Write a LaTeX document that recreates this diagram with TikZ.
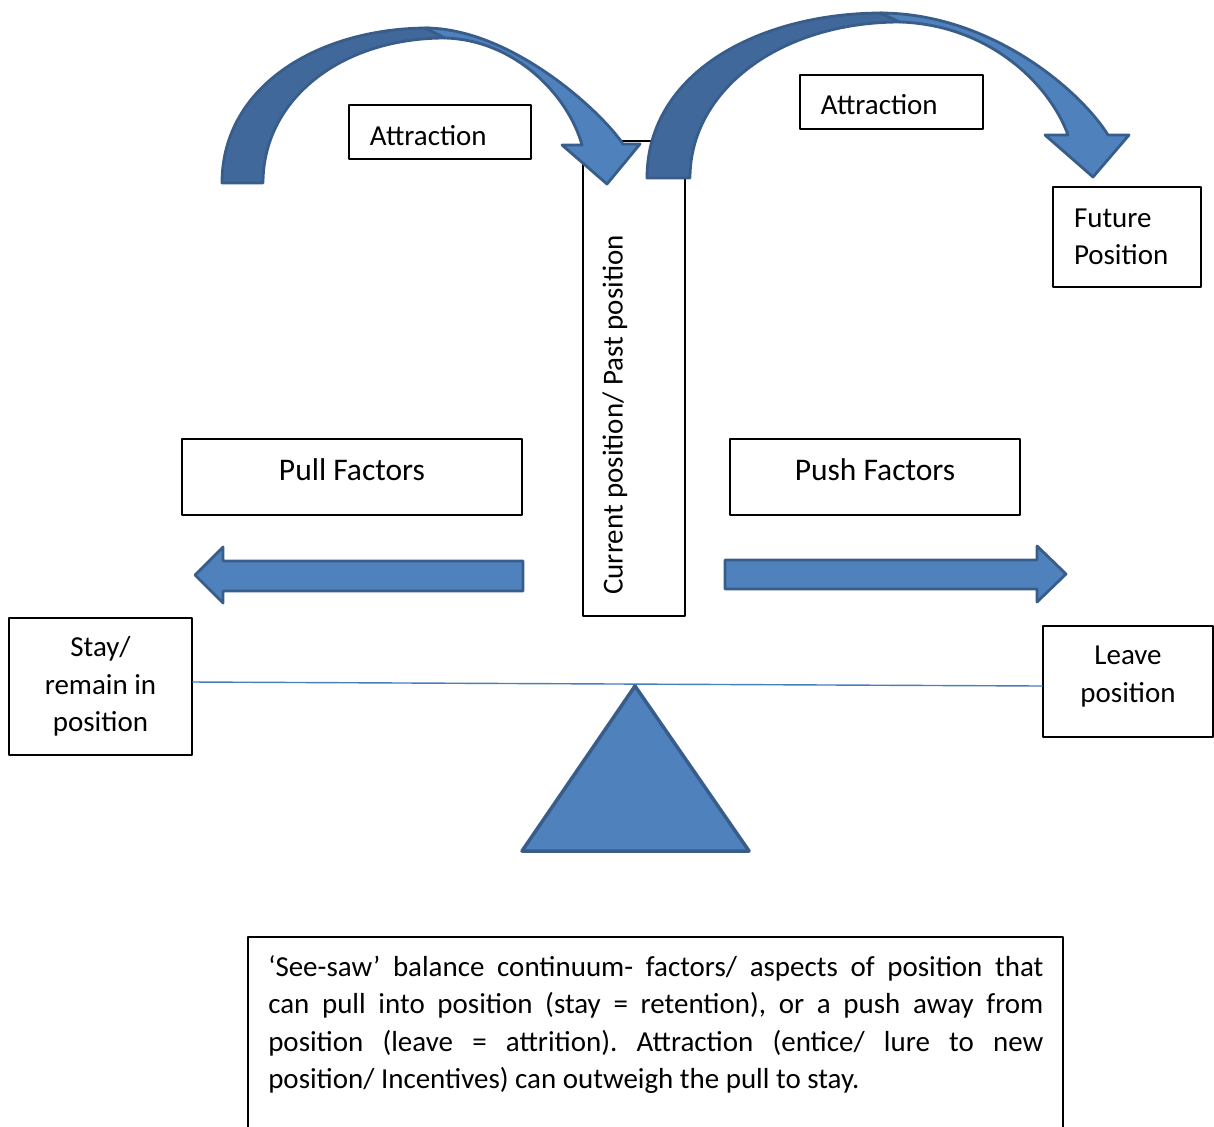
\documentclass[tikz,border=0pt]{standalone}
\usepackage{fontspec}
\setmainfont{Carlito}
\definecolor{arrowfill}{HTML}{4F81BD}
\definecolor{arrowshade}{HTML}{41689B}
\definecolor{arrowedge}{HTML}{385D8A}
\definecolor{beamline}{HTML}{4A7EBB}
\newcommand{\boxfont}{\fontsize{20.6}{26.7}\selectfont}
\newcommand{\factorfont}{\fontsize{22.4}{29}\selectfont}
\newcommand{\lift}[2]{\raisebox{#1}[\height][\depth]{#2}}
\tikzset{
  box/.style={draw=black, line width=1pt, inner sep=0pt, font=\boxfont},
  fatarrow/.style={fill=arrowfill, draw=arrowedge, line width=2pt},
  shadearrow/.style={fill=arrowshade, draw=arrowedge, line width=2pt},
}
\begin{document}
\begin{tikzpicture}[line cap=round,line join=round,x=0.025cm,y=-0.025cm]
		\clip (0,0) rectangle (1214,1126);
		% boxes
		\node[box, minimum width=2.55cm, minimum height=11.875cm] (current) at (634,378.5) {};
		\node[rotate=90, anchor=west, inner sep=0pt, font=\boxfont] (currenttext) at (615,595) {Current position/ Past position};
		\node[box, minimum width=4.55cm, minimum height=1.35cm, text width=3.5cm, align=left] (attrleft) at (440,132) {\lift{-2.8pt}{Attraction}};
		\node[box, minimum width=4.575cm, minimum height=1.35cm, text width=3.525cm, align=left] (attrright) at (891.5,102) {\lift{-2.1pt}{Attraction}};
		\node[box, minimum width=3.7cm, minimum height=2.5cm, text width=2.65cm, align=left] (future) at (1127,237) {Future\\Position};
		\node[box, minimum width=8.5cm, minimum height=1.9cm, font=\factorfont] (pull) at (352,477) {\lift{5pt}{Pull Factors}};
		\node[box, minimum width=7.25cm, minimum height=1.9cm, font=\factorfont] (push) at (875,477) {\lift{5pt}{Push Factors}};
		\node[box, minimum width=4.575cm, minimum height=3.425cm, align=center] (stay) at (100.5,686.5) {Stay/\\remain in\\position};
		\node[box, minimum width=4.25cm, minimum height=2.775cm, align=center] (leave) at (1128,681.5) {\lift{3.5pt}{Leave}\\\lift{3.5pt}{position}};
		% see-saw
		\draw[beamline, line width=1pt] (stay.east |- 0,682) -- (leave.west |- 0,686);
		\coordinate (pivot) at (635,686);
		\draw[fatarrow, line width=2.5pt] (pivot) -- (749,851) -- (522,851) -- cycle;
		% straight arrows
		\draw[fatarrow] (523,561) -- (223,561) -- (223,547) -- (195,575) -- (223,603) -- (223,591) -- (523,591) -- cycle;
		\draw[fatarrow] (725,560) -- (1037,560) -- (1037,546) -- (1066,574) -- (1037,602) -- (1037,589) -- (725,589) -- cycle;
		% curved arrows
		\draw[shadearrow] (222,183) .. controls (222,85) and (320,28) .. (428,28) -- (445,38) .. controls (340,38) and (263,100) .. (263,183) -- cycle;
		\draw[fatarrow] (425,28) .. controls (510,28) and (600,110) .. (623,144) -- (640,144) -- (607,184) -- (562,145) -- (582,145) .. controls (568,95) and (515,40) .. (445,38) -- cycle;
		\draw[shadearrow] (647,178) .. controls (647,72) and (760,13) .. (882,13) -- (900,22) .. controls (780,22) and (690,90) .. (690,178) -- cycle;
		\draw[fatarrow] (880,13) .. controls (990,13) and (1080,90) .. (1108,135) -- (1129,135) -- (1093,177) -- (1045,135) -- (1068,135) .. controls (1050,85) and (990,25) .. (900,22) -- cycle;
		% caption
		\draw[line width=1pt] (248,1140) |- (1063,937) -- (1063,1140);
		\node[anchor=north west, inner sep=0pt, text width=19.375cm, align=justify, font=\boxfont\frenchspacing] (caption) at (268,955) {‘See-saw’ balance continuum- factors/ aspects of position that\linebreak can pull into position (stay = retention), or a push away from\linebreak position (leave = attrition). Attraction (entice/ lure to new\linebreak position/ Incentives) can outweigh the pull to stay.};
		\end{tikzpicture}
\end{document}
